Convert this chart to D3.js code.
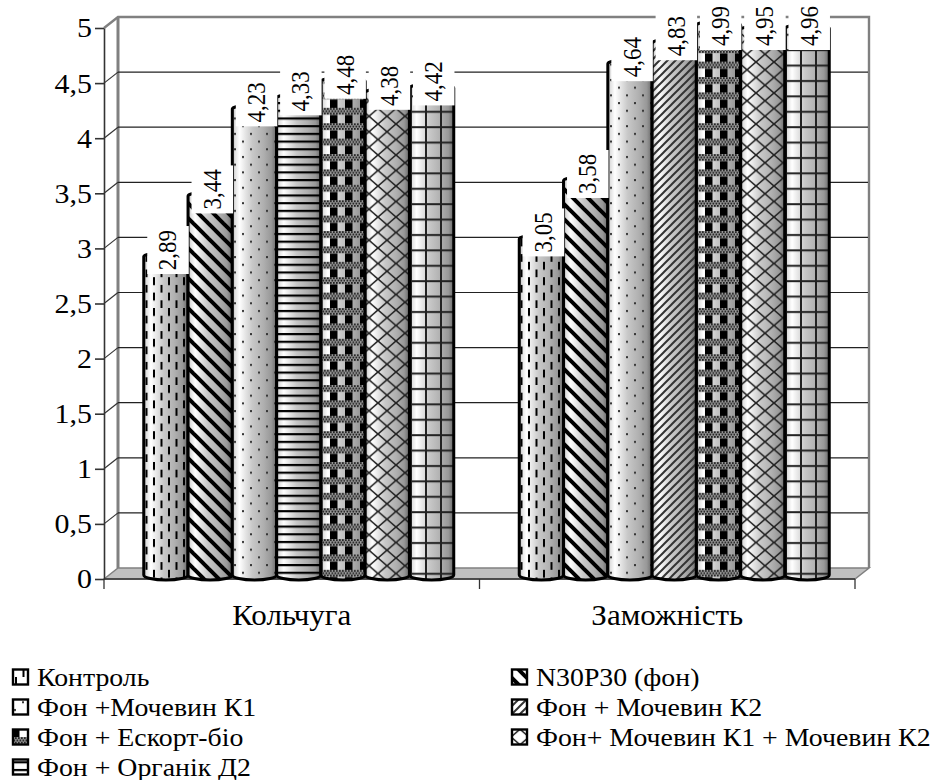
<!DOCTYPE html>
<html>
<head>
<meta charset="utf-8">
<script src="https://cdn.jsdelivr.net/npm/d3@7"></script>
<style>
html,body{margin:0;padding:0;background:#fff;}
text{font-family:"Liberation Serif",serif;fill:#000;}
</style>
</head>
<body>
<div id="chart"></div>
<script>
const categories = ["Кольчуга", "Заможність"];
const seriesNames = ["Контроль", "N30P30 (фон)", "Фон +Мочевин К1", "Фон + Мочевин К2", "Фон + Ескорт-біо", "Фон+ Мочевин К1 + Мочевин К2", "Фон + Органік Д2"];
const kolchuga = [2.89, 3.44, 4.23, 4.33, 4.48, 4.38, 4.42];
const zamozhnist = [3.05, 3.58, 4.64, 4.83, 4.99, 4.95, 4.96];
const yTicks = [0, 0.5, 1, 1.5, 2, 2.5, 3, 3.5, 4, 4.5, 5];
// the chart uses another fill for bar 4 in each group, and the legend has its own for the last one
const barPatterns = [
  ["dash", "diag", "dots", "horiz", "plaid", "cross", "grid"],
  ["dash", "diag", "dots", "fine", "plaid", "cross", "grid"]
];
const legendPatterns = ["dash", "diag", "dots", "fine", "plaid", "cross", "horiz"];
const shade = [[0, "#a8a8a8"], [0.06, "#e0e0e0"], [0.16, "#ffffff"], [0.3, "#e4e4e4"], [0.45, "#c8c8c8"], [0.7, "#b0b0b0"], [0.88, "#989898"], [1, "#686868"]];

const width = 930, height = 780;
const depth = { x: 14, y: -11 };
const textStretch = 1.07; // the original picture is a bit wider than tall
const svg = d3.select("#chart").append("svg").attr("width", width).attr("height", height).style("display", "block");
const defs = svg.append("defs");

const grad = defs.append("linearGradient").attr("id", "cyl");
shade.forEach(s => grad.append("stop").attr("offset", s[0]).attr("stop-color", s[1]));

function tile(id, w, h, draw) {
  const p = defs.append("pattern").attr("id", id).attr("patternUnits", "userSpaceOnUse").attr("width", w).attr("height", h);
  draw(p);
}
function seg(p, x1, y1, x2, y2, sw, col) {
  p.append("line").attr("x1", x1).attr("y1", y1).attr("x2", x2).attr("y2", y2).attr("stroke", col || "#000").attr("stroke-width", sw);
}
tile("dash", 15, 15.4, p => {
  seg(p, 4, 0, 4, 8, 2);
  seg(p, 11.5, 7.7, 11.5, 15.4, 2);
});
tile("diag", 15, 15, p => {
  seg(p, -3, -3, 18, 18, 4);
  seg(p, -3, 12, 3, 18, 4);
  seg(p, 12, -3, 18, 3, 4);
});
tile("dots", 16, 15.4, p => {
  p.append("rect").attr("x", 2).attr("y", 2).attr("width", 2).attr("height", 2).attr("fill", "#333");
  p.append("rect").attr("x", 10).attr("y", 9.7).attr("width", 2).attr("height", 2).attr("fill", "#333");
});
tile("horiz", 8, 7.7, p => seg(p, 0, 3, 8, 3, 2.2));
tile("fine", 8, 8, p => {
  seg(p, -2, 10, 10, -2, 2, "#333");
  seg(p, -2, 2, 2, -2, 2, "#333");
  seg(p, 6, 10, 10, 6, 2, "#333");
});
tile("plaid", 15, 15.4, p => {
  p.append("rect").attr("x", 0).attr("y", 7).attr("width", 7.5).attr("height", 8.4).attr("fill", "#000");
  p.append("rect").attr("x", 0).attr("y", 0).attr("width", 15).attr("height", 7).attr("fill", "#999");
  for (let i = 0; i < 5; i++) for (let j = 0; j < 3; j++) {
    p.append("rect").attr("x", i * 3 + (j % 2) * 1.5).attr("y", j * 2.3 + 0.2).attr("width", 1.7).attr("height", 1.8).attr("fill", "#222");
  }
});
tile("cross", 18, 15.5, p => {
  seg(p, 0, 0, 18, 15.5, 1.6, "#222");
  seg(p, 0, 15.5, 18, 0, 1.6, "#222");
});
tile("grid", 15, 15.4, p => {
  seg(p, 0, 4, 15, 4, 2, "#222");
  seg(p, 6, 0, 6, 15.4, 2, "#222");
});

const y = d3.scaleLinear().domain([0, 5]).range([579, 28]);
const x0 = d3.scaleBand().domain(categories).range([104, 855]);
const x1 = d3.scaleBand().domain(seriesNames).range([-155, 155]);
const backRight = x0.range()[1] + depth.x, backLeft = x0.range()[0] + depth.x;

// walls and floor
svg.append("path")
  .attr("d", `M${x0.range()[0]},${y(0)}L${backLeft},${y(0) + depth.y}L${backRight},${y(0) + depth.y}L${x0.range()[1]},${y(0)}Z`)
  .attr("fill", "#c0c0c0").attr("stroke", "#808080").attr("stroke-width", 1.5);
svg.append("path")
  .attr("d", `M${x0.range()[0]},${y(5)}L${backLeft},${y(5) + depth.y}L${backRight},${y(5) + depth.y}L${backRight},${y(0) + depth.y}`)
  .attr("fill", "none").attr("stroke", "#808080").attr("stroke-width", 2.4);
svg.append("line").attr("x1", backLeft).attr("x2", backLeft).attr("y1", y(5) + depth.y).attr("y2", y(0) + depth.y)
  .attr("stroke", "#808080").attr("stroke-width", 3);

// gridlines on the back wall + slant on the side wall
const grid = svg.append("g");
yTicks.filter(t => t > 0 && t < 5).forEach(t => {
  grid.append("line").attr("x1", backLeft).attr("x2", backRight - 1).attr("y1", y(t) + depth.y).attr("y2", y(t) + depth.y)
    .attr("stroke", "#222").attr("stroke-width", 1.2);
});
yTicks.filter(t => t > 0 && t < 5).forEach(t => {
  grid.append("line").attr("x1", x0.range()[0]).attr("x2", backLeft).attr("y1", y(t)).attr("y2", y(t) + depth.y)
    .attr("stroke", "#333").attr("stroke-width", 1.2);
});

// axes
const yAxis = d3.axisLeft(y).tickValues(yTicks).tickSize(9).tickSizeOuter(0)
  .tickFormat(d => String(d).replace(".", ","));
const gy = svg.append("g").attr("transform", `translate(${x0.range()[0]},0)`).call(yAxis);
gy.selectAll("text").style("font-family", '"Liberation Serif",serif').style("font-size", "28px").attr("fill", "#000")
  .attr("x", 0).attr("transform", `translate(-12,0) scale(${textStretch},1)`);
gy.selectAll("line,path").attr("stroke", "#333").attr("stroke-width", 1.6);

const xAxis = d3.axisBottom(x0).tickSize(0).tickPadding(25);
const gx = svg.append("g").attr("transform", `translate(0,${y(0)})`).call(xAxis);
gx.selectAll("text").style("font-family", '"Liberation Serif",serif').style("font-size", "29px").attr("fill", "#000")
  .attr("transform", `scale(${textStretch},1)`);
gx.selectAll("path").remove();
[x0.range()[0], x0.range()[0] + x0.bandwidth(), x0.range()[1]].forEach(px => {
  gx.append("line").attr("x1", px).attr("x2", px).attr("y1", 0).attr("y2", 10).attr("stroke", "#333").attr("stroke-width", 1.3);
});
gx.append("line").attr("x1", x0.range()[0]).attr("x2", x0.range()[1]).attr("y1", 0).attr("y2", 0).attr("stroke", "#333").attr("stroke-width", 1.3);

// bars
const groups = [kolchuga, zamozhnist];
const bars = [];
categories.forEach((c, gi) => {
  seriesNames.forEach((s, si) => {
    bars.push({ cat: c, name: s, value: groups[gi][si], pattern: barPatterns[gi][si] });
  });
});
const bx = d => x0(d.cat) + x0.bandwidth() / 2 + depth.x / 2 + x1(d.name);
const bw = x1.bandwidth();
const rx = bw / 2, ry = 3.6;
const cylPath = d => {
  const l = bx(d), r = l + bw, t = y(d.value) - 4, b = y(0) - 4;
  return `M${l},${t}A${rx},${ry} 0 0 1 ${r},${t}L${r},${b}A${rx},${ry + 1.4} 0 0 1 ${l},${b}Z`;
};
const barG = svg.append("g").selectAll("g").data(bars).join("g");
barG.append("path").attr("d", cylPath).attr("fill", "url(#cyl)");
barG.append("path").attr("d", cylPath).attr("fill", d => `url(#${d.pattern})`).attr("stroke", "#000").attr("stroke-width", 3);

// data labels on white boxes, kept inside the top of the chart
const labelH = 48, labelW = 41.5;
const boxBottom = d => Math.max(y(d.value) + 13.5, 50);
const lab = svg.append("g").selectAll("g").data(bars).join("g");
lab.append("rect").attr("x", d => bx(d) + 3.5).attr("y", d => boxBottom(d) - labelH).attr("width", labelW).attr("height", labelH).attr("fill", "#fff");
lab.append("text")
  .attr("transform", d => `translate(${bx(d) + 3.5 + labelW / 2},${boxBottom(d) - labelH / 2}) rotate(-90) scale(1,${textStretch + 0.01})`)
  .attr("text-anchor", "middle").attr("dy", "0.34em").style("font-size", "23px")
  .text(d => String(d.value).replace(".", ","));

// legend
const legX = d3.scaleOrdinal().domain([0, 1]).range([12, 511]);
const legY = d3.scaleLinear().domain([0, 3]).range([677, 767]);
const leg = svg.append("g").selectAll("g").data(seriesNames).join("g")
  .attr("transform", (d, i) => `translate(${legX(i % 2)},${legY(Math.floor(i / 2))})`);
leg.append("rect").attr("x", 1).attr("y", -7.5).attr("width", 15).attr("height", 15).attr("fill", "#fff");
leg.append("rect").attr("x", 1).attr("y", -7.5).attr("width", 15).attr("height", 15)
  .attr("fill", (d, i) => `url(#${legendPatterns[i]})`).attr("stroke", "#000").attr("stroke-width", 2.4);
leg.append("text").attr("transform", `translate(25,0) scale(${textStretch},1)`).attr("dy", "0.33em").style("font-size", "26px").text(d => d);
</script>
</body>
</html>
